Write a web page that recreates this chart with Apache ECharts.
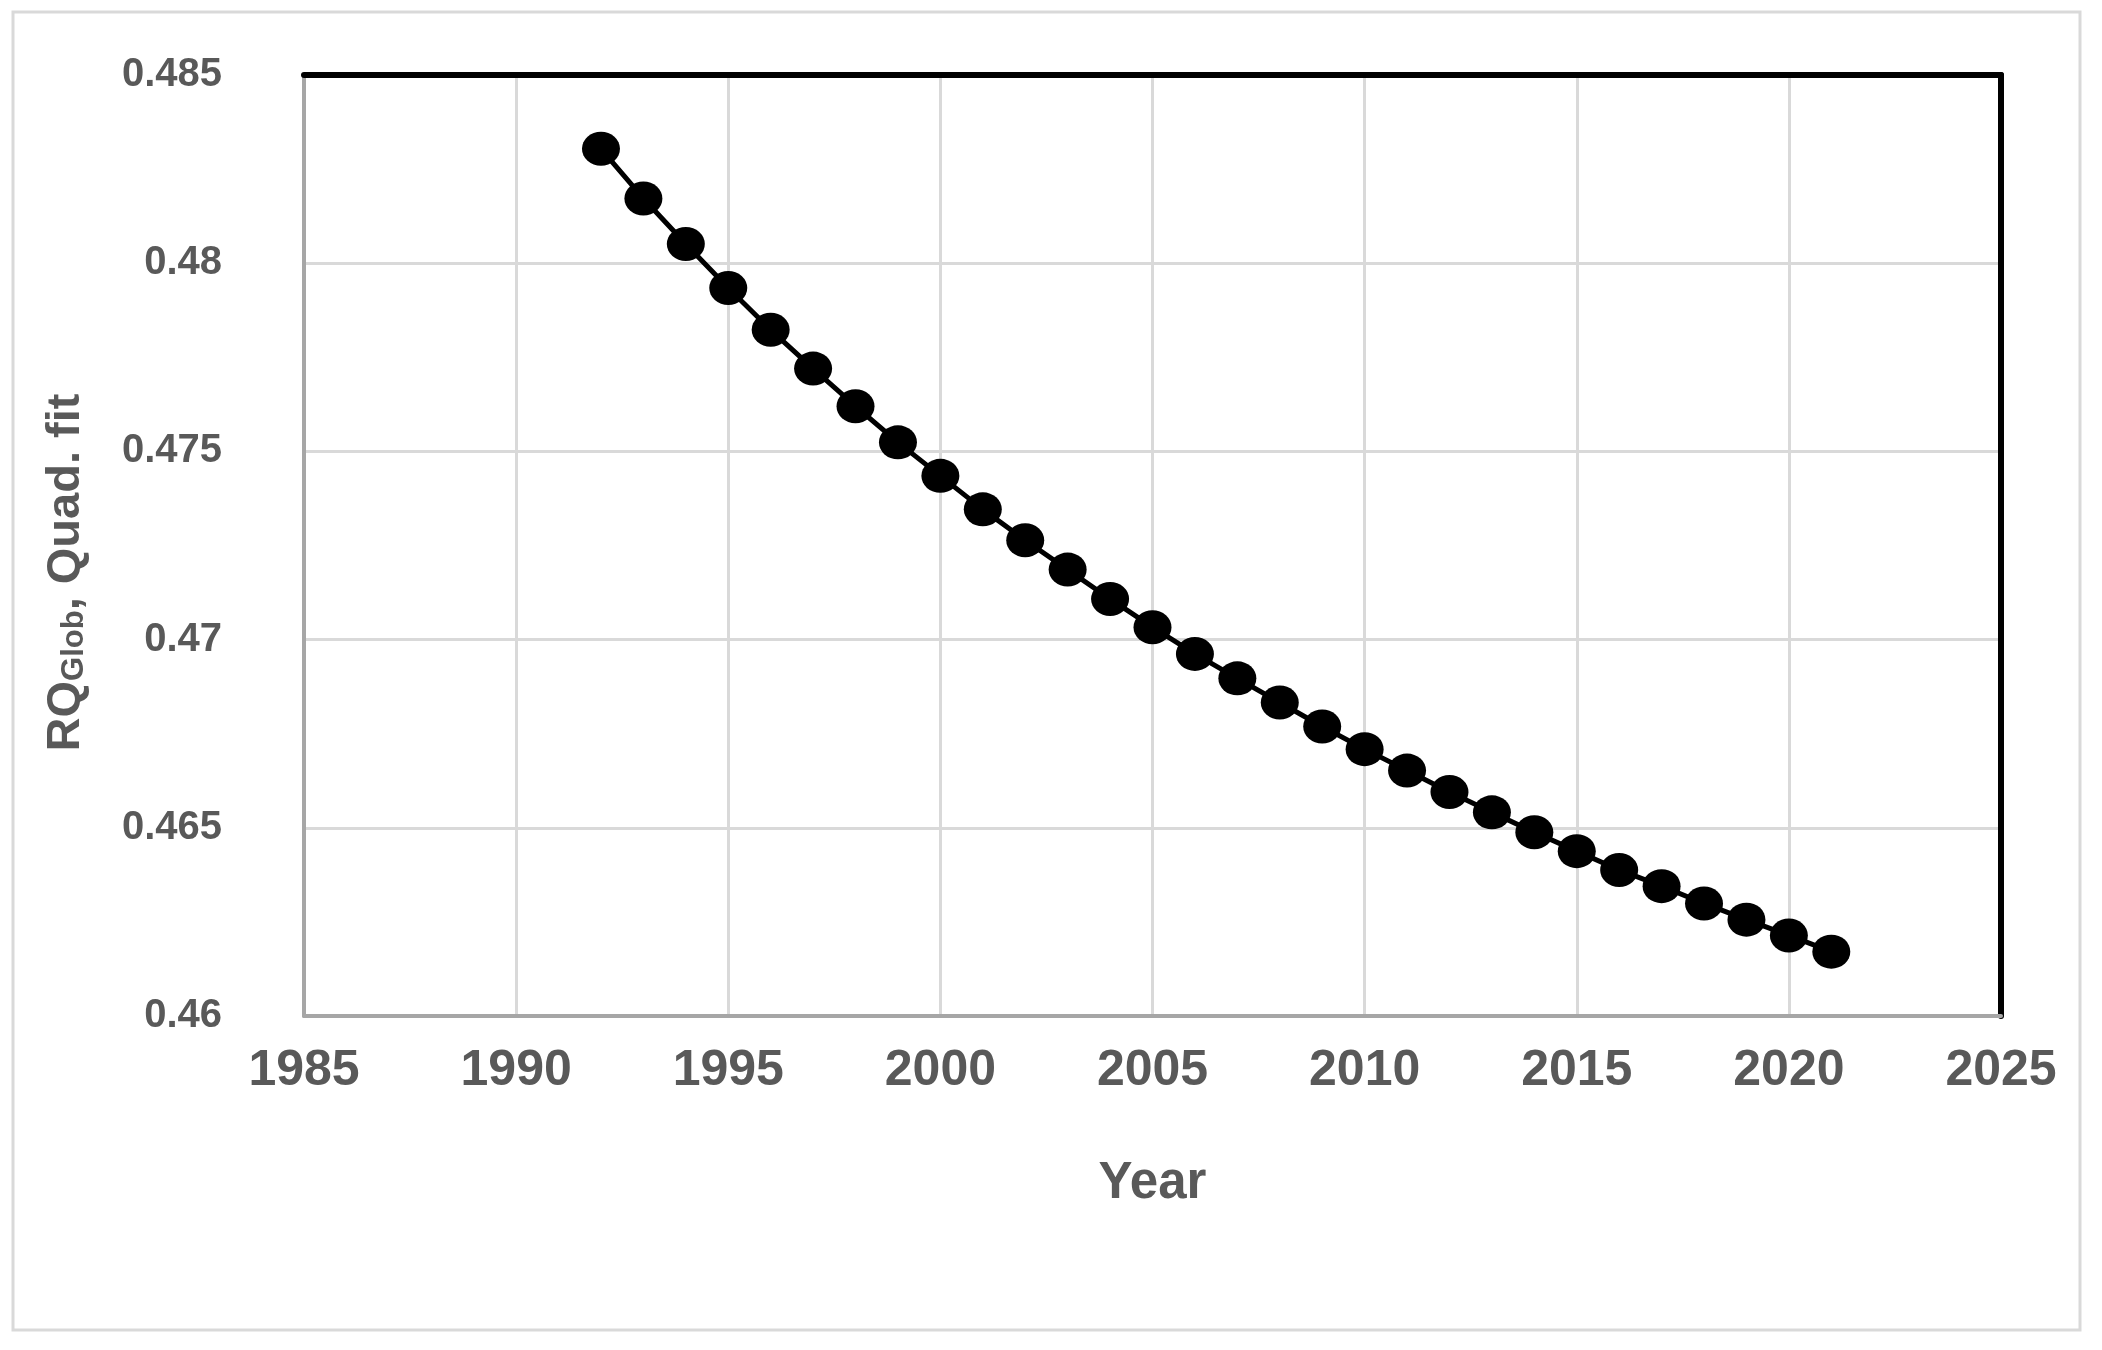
<!DOCTYPE html>
<html>
<head>
<meta charset="utf-8">
<script src="https://cdn.jsdelivr.net/npm/echarts@6/dist/echarts.min.js"></script>
<style>
html,body{margin:0;padding:0;background:#fff;}
#chart{width:2102px;height:1350px;}
</style>
</head>
<body>
<div id="chart"></div>
<script>
var years = [1992,1993,1994,1995,1996,1997,1998,1999,2000,2001,2002,2003,2004,2005,2006,2007,2008,2009,2010,2011,2012,2013,2014,2015,2016,2017,2018,2019,2020,2021];
var rqValues = [0.48304,0.48172,0.48051,0.47934,0.47823,0.47720,0.47620,0.47524,0.47435,0.47346,0.47264,0.47186,0.47108,0.47033,0.46962,0.46897,0.46833,0.46769,0.46709,0.46652,0.46595,0.46541,0.46488,0.46438,0.46388,0.46345,0.46299,0.46256,0.46214,0.46171];
var xTicks = [1985,1990,1995,2000,2005,2010,2015,2020,2025];
var yTicks = [0.46,0.465,0.47,0.475,0.48,0.485];
var xTitle = 'Year';
var yTitleMain = 'RQ', yTitleSub = 'Glob', yTitleRest = ', Quad. fit';

var labelColor = '#595959';
var chart = echarts.init(document.getElementById('chart'), null, {renderer:'canvas'});
var data = years.map(function(y,i){return [y, rqValues[i]];});

chart.setOption({
  backgroundColor:'#fff',
  animation:false,
  graphic:[{type:'rect', shape:{x:13,y:12,width:2067,height:1318}, style:{fill:'none', stroke:'#d9d9d9', lineWidth:3}, silent:true, z:-1}],
  grid:{left:304,right:101,top:75,bottom:334},
  xAxis:[{
    type:'value', min:xTicks[0], max:xTicks[xTicks.length-1], interval:5,
    name:xTitle, nameLocation:'middle', nameGap:142,
    nameTextStyle:{fontFamily:'Liberation Sans, Arial', fontWeight:'bold', fontSize:51, color:labelColor},
    axisLine:{show:true, onZero:false, lineStyle:{color:'#a6a6a6', width:4}},
    axisTick:{show:false},
    axisLabel:{fontFamily:'Liberation Sans, Arial', fontWeight:'bold', fontSize:50, color:labelColor, margin:30,
      formatter:function(v){return String(v);}},
    splitLine:{show:true, lineStyle:{color:'#d9d9d9', width:3}}
  },{
    type:'value', position:'top', min:xTicks[0], max:xTicks[xTicks.length-1], interval:5,
    axisLine:{show:true, lineStyle:{color:'#000', width:6}},
    axisTick:{show:false}, axisLabel:{show:false}, splitLine:{show:false}
  }],
  yAxis:[{
    type:'value', min:yTicks[0], max:yTicks[yTicks.length-1], interval:0.005,
    name:'{a|'+yTitleMain+'}{b|'+yTitleSub+'}{a|'+yTitleRest+'}',
    nameLocation:'middle', nameRotate:90, nameGap:214,
    nameTextStyle:{fontFamily:'Liberation Sans, Arial', fontWeight:'bold', color:labelColor,
      padding:[0,54,0,0],
      rich:{
        a:{fontFamily:'Liberation Sans, Arial', fontWeight:'bold', fontSize:47, color:labelColor, verticalAlign:'bottom', lineHeight:60},
        b:{fontFamily:'Liberation Sans, Arial', fontWeight:'bold', fontSize:31, color:labelColor, verticalAlign:'bottom', lineHeight:26}
      }},
    axisLine:{show:true, onZero:false, lineStyle:{color:'#a6a6a6', width:4}},
    axisTick:{show:false},
    axisLabel:{fontFamily:'Liberation Sans, Arial', fontWeight:'bold', fontSize:40, color:labelColor, margin:82,
      formatter:function(v){return String(+v.toFixed(3));}},
    splitLine:{show:true, lineStyle:{color:'#d9d9d9', width:3}}
  },{
    type:'value', position:'right', min:yTicks[0], max:yTicks[yTicks.length-1], interval:0.005,
    axisLine:{show:true, lineStyle:{color:'#000', width:6}},
    axisTick:{show:false}, axisLabel:{show:false}, splitLine:{show:false}
  }],
  series:[{
    type:'line', data:data, xAxisIndex:0, yAxisIndex:0,
    symbol:'circle', symbolSize:[38,34],
    lineStyle:{color:'#000', width:5},
    itemStyle:{color:'#000'},
    z:5
  }]
});
</script>
</body>
</html>
